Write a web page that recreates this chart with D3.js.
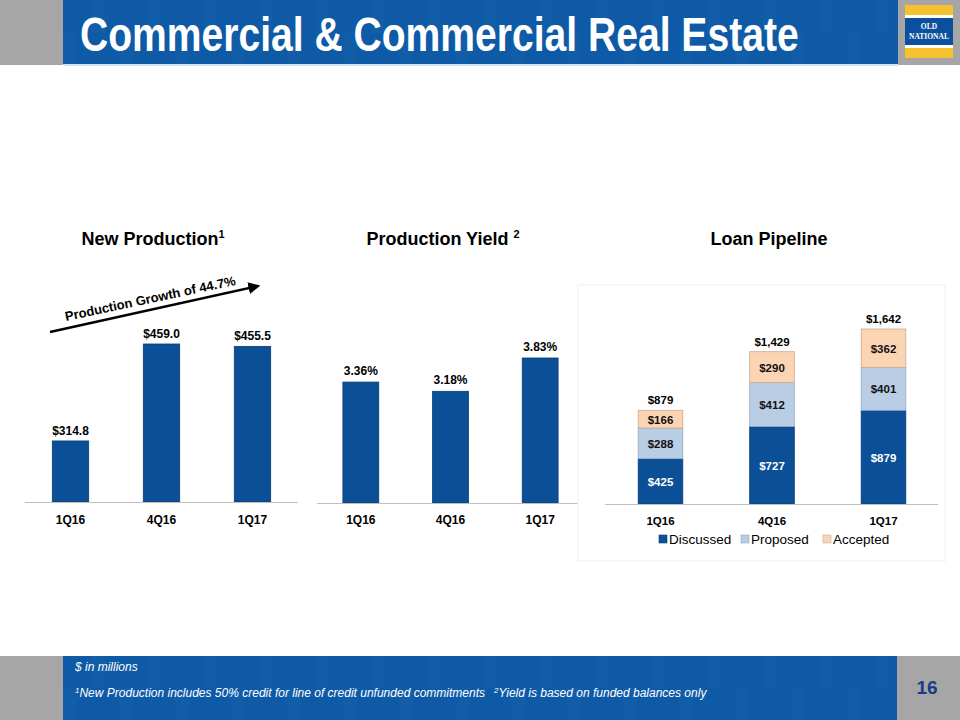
<!DOCTYPE html>
<html>
<head>
<meta charset="utf-8">
<script src="https://cdn.jsdelivr.net/npm/d3@7/dist/d3.min.js"></script>
<style>
  html, body { margin: 0; padding: 0; background: #ffffff; }
  svg { display: block; }
</style>
</head>
<body>
<svg id="chart" width="960" height="720"></svg>
<script>
// ---------------- DATA ----------------
const categories = ["1Q16", "4Q16", "1Q17"];
const newProduction = [314.8, 459.0, 455.5];
const newProductionLabels = ["$314.8", "$459.0", "$455.5"];
const productionYield = [3.36, 3.18, 3.83];
const productionYieldLabels = ["3.36%", "3.18%", "3.83%"];
const seriesNames = ["Discussed", "Proposed", "Accepted"];
const discussed = [425, 727, 879];
const proposed = [288, 412, 401];
const accepted = [166, 290, 362];
const pipelineTotals = [879, 1429, 1642];
const pipelineTotalLabels = ["$879", "$1,429", "$1,642"];

// ---------------- STYLE ----------------
const LBL = "'Liberation Sans', Arial, sans-serif";
const ARIAL = "'Liberation Sans', Arial, sans-serif";
const BAR = "#0b4f97";
const BAR_STROKE = "#083d76";
const seriesColors = ["#0b4f97", "#b9cde5", "#fbd4b4"];
const seriesStroke = ["#083d76", "#95a8c2", "#c9aa90"];
const seriesText = ["#ffffff", "#111111", "#111111"];

const svg = d3.select("#chart");

// ---------------- HEADER ----------------
svg.append("rect").attr("x", 0).attr("y", 0).attr("width", 960).attr("height", 65).attr("fill", "#a6a6a6");
svg.append("rect").attr("x", 63).attr("y", 0).attr("width", 835).attr("height", 65).attr("fill", "#0e5aa7");
svg.append("g").selectAll("rect").data(d3.range(0, 835, 28)).join("rect")
  .attr("x", d => 63 + d).attr("y", (d, i) => (i % 2 ? 0 : 32))
  .attr("width", 14).attr("height", 33).attr("fill", "#ffffff").attr("opacity", 0.02);
svg.append("rect").attr("x", 63).attr("y", 64).attr("width", 835).attr("height", 2).attr("fill", "#d6e3f2");
const hdr = svg.append("text")
  .attr("x", 0).attr("y", 0)
  .attr("font-family", ARIAL).attr("font-weight", "bold").attr("font-size", 49)
  .attr("fill", "#ffffff")
  .text("Commercial & Commercial Real Estate");
const hdrLen = hdr.node().getComputedTextLength();
hdr.attr("transform", `translate(80,51) scale(${719 / hdrLen},1)`);

// logo
const logo = svg.append("g");
logo.append("rect").attr("x", 905).attr("y", 5).attr("width", 48).attr("height", 53).attr("fill", "#f5c12e");
logo.append("rect").attr("x", 905).attr("y", 15).attr("width", 48).attr("height", 3).attr("fill", "#ffffff");
logo.append("rect").attr("x", 905).attr("y", 18).attr("width", 48).attr("height", 27).attr("fill", "#0c4f9d");
logo.append("rect").attr("x", 905).attr("y", 45).attr("width", 48).attr("height", 3).attr("fill", "#ffffff");
logo.append("text").attr("x", 929).attr("y", 29).attr("text-anchor", "middle")
  .attr("font-family", "'Liberation Serif', 'DejaVu Serif', serif").attr("font-size", 7.5).attr("font-weight", "bold")
  .attr("fill", "#ffffff").text("OLD");
logo.append("text").attr("x", 929).attr("y", 38.5).attr("text-anchor", "middle")
  .attr("font-family", "'Liberation Serif', 'DejaVu Serif', serif").attr("font-size", 7.5).attr("font-weight", "bold")
  .attr("fill", "#ffffff").text("NATIONAL");

// ---------------- FOOTER ----------------
svg.append("rect").attr("x", 0).attr("y", 656).attr("width", 960).attr("height", 64).attr("fill", "#a6a6a6");
svg.append("rect").attr("x", 63).attr("y", 656).attr("width", 834).attr("height", 64).attr("fill", "#0e5aa7");
svg.append("g").selectAll("rect").data(d3.range(0, 834, 28)).join("rect")
  .attr("x", d => 63 + d).attr("y", (d, i) => (i % 2 ? 656 : 688))
  .attr("width", 14).attr("height", 32).attr("fill", "#ffffff").attr("opacity", 0.02);
svg.append("text").attr("x", 75).attr("y", 671)
  .attr("font-family", ARIAL).attr("font-style", "italic").attr("font-size", 12)
  .attr("fill", "#ffffff").text("$ in millions");
const fn = svg.append("text").attr("x", 75).attr("y", 697)
  .attr("font-family", ARIAL).attr("font-style", "italic").attr("font-size", 12)
  .attr("fill", "#ffffff");
fn.append("tspan").attr("font-size", 8).attr("dy", -4).text("1");
fn.append("tspan").attr("dy", 4).text("New Production includes 50% credit for line of credit unfunded commitments");
fn.append("tspan").attr("font-size", 8).attr("dx", 9).attr("dy", -4).text("2");
fn.append("tspan").attr("dy", 4).text("Yield is based on funded balances only");
svg.append("text").attr("x", 927).attr("y", 694).attr("text-anchor", "middle")
  .attr("font-family", ARIAL).attr("font-weight", "bold").attr("font-size", 19)
  .attr("fill", "#1d3a8a").text("16");

// ---------------- helper: title ----------------
function title(x, txt, sup) {
  const t = svg.append("text").attr("x", x).attr("y", 245).attr("text-anchor", "middle")
    .attr("font-family", ARIAL).attr("font-weight", "bold").attr("font-size", 18).attr("fill", "#000000");
  t.append("tspan").text(txt);
  if (sup) t.append("tspan").attr("font-size", 11).attr("dy", -7).text(sup);
}

// ---------------- CHART 1: New Production ----------------
const x1 = d3.scaleBand().domain(categories).range([25, 298]).paddingInner(0.6).paddingOuter(0.3);
const y1 = d3.scaleLinear().domain([224, 459]).range([502, 344]);
title(153, "New Production", "1");

const g1 = svg.append("g");
g1.selectAll("rect").data(newProduction).join("rect")
  .attr("x", (d, i) => x1(categories[i])).attr("width", x1.bandwidth())
  .attr("y", d => y1(d)).attr("height", d => y1.range()[0] - y1(d))
  .attr("fill", BAR).attr("stroke", BAR_STROKE).attr("stroke-width", 0.8);
g1.selectAll("text.val").data(newProduction).join("text").attr("class", "val")
  .attr("x", (d, i) => x1(categories[i]) + x1.bandwidth() / 2).attr("y", d => y1(d) - 6)
  .attr("text-anchor", "middle").attr("font-family", LBL).attr("font-weight", "bold").attr("font-size", 12)
  .text((d, i) => newProductionLabels[i]);
const ax1 = g1.append("g").attr("transform", `translate(0,${y1.range()[0]})`)
  .call(d3.axisBottom(x1).tickSize(0).tickPadding(13));
ax1.select(".domain").attr("stroke", "#bfbfbf").attr("d", "M25,0.5H298");
ax1.selectAll("text").attr("font-family", LBL).attr("font-weight", "bold").attr("font-size", 12).attr("fill", "#000");

// growth arrow
const defs = svg.append("defs");
defs.append("marker").attr("id", "arrowhead").attr("viewBox", "0 0 10 10")
  .attr("refX", 8).attr("refY", 5).attr("markerWidth", 5).attr("markerHeight", 5)
  .attr("orient", "auto")
  .append("path").attr("d", "M0,0L10,5L0,10z").attr("fill", "#000");
svg.append("line").attr("x1", 50).attr("y1", 332).attr("x2", 258).attr("y2", 286)
  .attr("stroke", "#000").attr("stroke-width", 2.4).attr("marker-end", "url(#arrowhead)");
svg.append("text").attr("transform", "translate(66,321) rotate(-12)")
  .attr("font-family", ARIAL).attr("font-weight", "bold").attr("font-size", 13).attr("fill", "#000")
  .text("Production Growth of 44.7%");

// ---------------- CHART 2: Production Yield ----------------
const x2 = d3.scaleBand().domain(categories).range([316, 585]).paddingInner(0.6).paddingOuter(0.3);
const y2 = d3.scaleLinear().domain([1.0, 3.83]).range([503, 358]);
title(443, "Production Yield ", "2");

const g2 = svg.append("g");
g2.selectAll("rect").data(productionYield).join("rect")
  .attr("x", (d, i) => x2(categories[i])).attr("width", x2.bandwidth())
  .attr("y", d => y2(d)).attr("height", d => y2.range()[0] - y2(d))
  .attr("fill", BAR).attr("stroke", BAR_STROKE).attr("stroke-width", 0.8);
g2.selectAll("text.val").data(productionYield).join("text").attr("class", "val")
  .attr("x", (d, i) => x2(categories[i]) + x2.bandwidth() / 2).attr("y", d => y2(d) - 7)
  .attr("text-anchor", "middle").attr("font-family", LBL).attr("font-weight", "bold").attr("font-size", 12)
  .text((d, i) => productionYieldLabels[i]);
const ax2 = g2.append("g").attr("transform", `translate(0,${y2.range()[0]})`)
  .call(d3.axisBottom(x2).tickSize(0).tickPadding(12));
ax2.select(".domain").attr("stroke", "#bfbfbf").attr("d", "M317,0.5H578");
ax2.selectAll("text").attr("font-family", LBL).attr("font-weight", "bold").attr("font-size", 12).attr("fill", "#000");

// ---------------- CHART 3: Loan Pipeline ----------------
svg.append("rect").attr("x", 578).attr("y", 285).attr("width", 367).attr("height", 276)
  .attr("fill", "#ffffff").attr("stroke", "#f0f0f0").attr("stroke-width", 1);
title(769, "Loan Pipeline", null);

const x3 = d3.scaleBand().domain(categories).range([604.75, 939.25]).paddingInner(0.6).paddingOuter(0.3);
const y3 = d3.scaleLinear().domain([0, 1642]).range([504, 329]);
const table = categories.map((c, i) => ({ cat: c, Discussed: discussed[i], Proposed: proposed[i], Accepted: accepted[i] }));
const stacked = d3.stack().keys(seriesNames)(table);

const g3 = svg.append("g");
stacked.forEach((layer, si) => {
  const lg = g3.append("g");
  lg.selectAll("rect").data(layer).join("rect")
    .attr("x", d => x3(d.data.cat)).attr("width", x3.bandwidth())
    .attr("y", d => y3(d[1])).attr("height", d => y3(d[0]) - y3(d[1]))
    .attr("fill", seriesColors[si]).attr("stroke", seriesStroke[si]).attr("stroke-width", 0.8);
  lg.selectAll("text").data(layer).join("text")
    .attr("x", d => x3(d.data.cat) + x3.bandwidth() / 2)
    .attr("y", d => (y3(d[0]) + y3(d[1])) / 2 + 4.5)
    .attr("text-anchor", "middle").attr("font-family", LBL).attr("font-weight", "bold").attr("font-size", 11.5)
    .attr("fill", seriesText[si])
    .text(d => "$" + d3.format(",")(d.data[layer.key]));
});
g3.selectAll("text.total").data(pipelineTotals).join("text").attr("class", "total")
  .attr("x", (d, i) => x3(categories[i]) + x3.bandwidth() / 2).attr("y", d => y3(d) - 6)
  .attr("text-anchor", "middle").attr("font-family", LBL).attr("font-weight", "bold").attr("font-size", 11.5)
  .text((d, i) => pipelineTotalLabels[i]);
const ax3 = g3.append("g").attr("transform", `translate(0,${y3.range()[0]})`)
  .call(d3.axisBottom(x3).tickSize(0).tickPadding(13));
ax3.select(".domain").attr("stroke", "#bfbfbf").attr("d", "M605,0.5H938");
ax3.selectAll("text").attr("font-family", LBL).attr("font-weight", "bold").attr("font-size", 11.5).attr("fill", "#000");

// legend
const legendX = [659, 741, 823];
const lgd = svg.append("g");
seriesNames.forEach((s, i) => {
  lgd.append("rect").attr("x", legendX[i]).attr("y", 535).attr("width", 8).attr("height", 8)
    .attr("fill", seriesColors[i]).attr("stroke", seriesStroke[i]).attr("stroke-width", 0.6);
  lgd.append("text").attr("x", legendX[i] + 10).attr("y", 544)
    .attr("font-family", ARIAL).attr("font-size", 13.5).attr("fill", "#000").text(s);
});
</script>
</body>
</html>
